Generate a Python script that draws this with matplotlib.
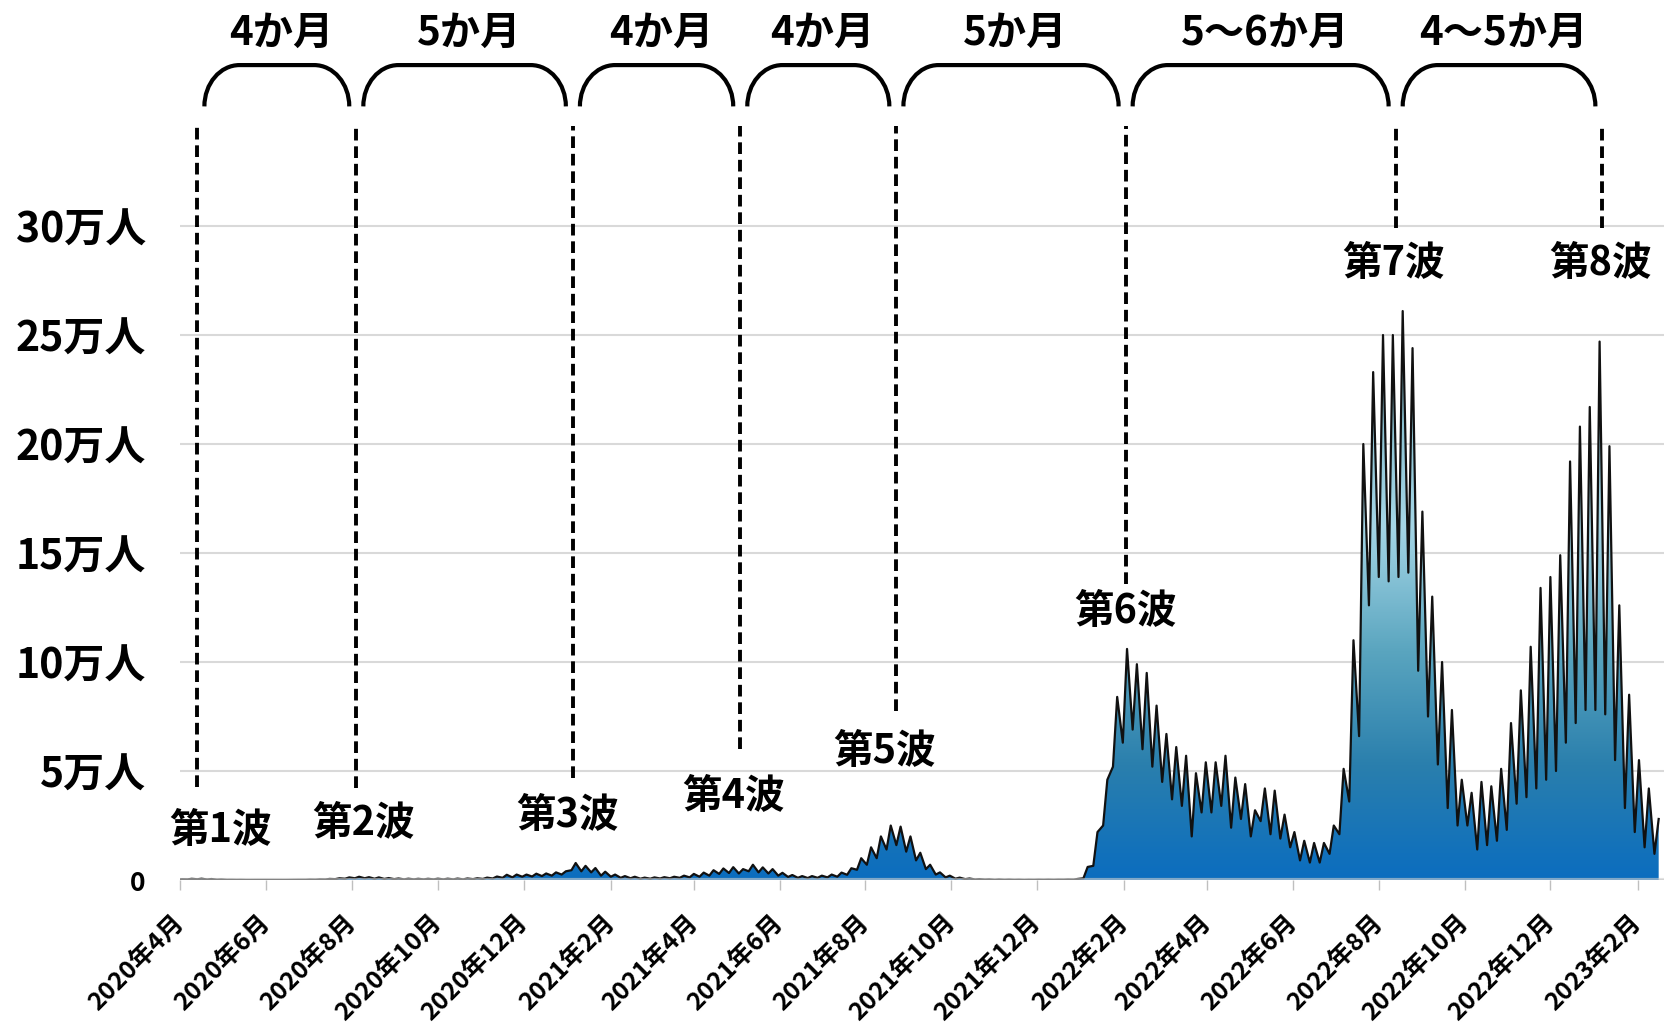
import numpy as np
import pandas as pd
import matplotlib
matplotlib.use('Agg')
import matplotlib.pyplot as plt
import matplotlib.dates as mdates
from matplotlib.colors import LinearSegmentedColormap
from matplotlib.path import Path
from matplotlib.patches import PathPatch
from matplotlib.transforms import blended_transform_factory

plt.rcParams['font.family'] = ['Noto Sans CJK JP', 'DejaVu Sans']
plt.rcParams['font.weight'] = 'bold'

# 週ごとの新規陽性者数（月曜=週の底、木曜=週の山）
low_2020 = [200, 300, 350, 250, 150, 80, 50, 20, 20, 30,
            30, 30, 50, 100, 150, 250, 400, 600, 800, 800,
            600, 500, 400, 300, 300, 300, 300, 300, 300, 300,
            400, 500, 700, 1000, 1200, 1500, 1600, 1800, 2000, 2500]
high_2020 = [350, 550, 600, 450, 250, 100, 80, 40, 40, 50,
             50, 60, 100, 200, 300, 500, 800, 1200, 1500, 1300,
             1200, 900, 700, 600, 550, 550, 600, 600, 650, 700,
             800, 1100, 1600, 2400, 2500, 2500, 2900, 3000, 3500, 4000]
low_2021 = [4500, 4000, 3500, 2000, 1500, 1000, 800, 600, 600, 700,
            800, 1000, 1200, 1500, 2000, 2800, 3200, 3000, 4000, 3500,
            3000, 2000, 1400, 1000, 900, 1000, 1200, 1500, 2400, 4700,
            7000, 10000, 14000, 16000, 13000, 9000, 5000, 2500, 1200, 600,
            400, 250, 200, 100, 100, 80, 50, 80, 100, 100,
            150, 200]
high_2021 = [7800, 6500, 5500, 3800, 2500, 1800, 1500, 1100, 1200, 1300,
             1500, 2000, 2800, 3400, 4500, 5300, 5900, 5000, 7000, 5800,
             5000, 3300, 2300, 1800, 1800, 2000, 2500, 3400, 5400, 10000,
             15000, 20000, 25000, 24500, 20000, 12500, 7000, 3500, 2000, 1100,
             700, 400, 300, 250, 200, 150, 120, 150, 170, 180,
             250, 500]
low_2022 = [800, 6500, 25000, 52000, 63000, 69000, 60000, 52000, 45000, 37000,
            34000, 20000, 31000, 31000, 34000, 24000, 28000, 20000, 27000, 21000,
            19000, 15000, 9000, 8000, 8000, 12000, 21000, 36000, 66000, 126000,
            139000, 137000, 139000, 141000, 96000, 75000, 53000, 33000, 25000, 25000,
            14000, 16000, 18000, 23000, 35000, 38000, 42000, 46000, 50000, 63000,
            72000, 78000]
high_2022 = [6000, 22000, 46000, 84000, 106000, 99000, 95000, 80000, 67000, 61000,
             57000, 49000, 54000, 54000, 57000, 47000, 44000, 32000, 42000, 41000,
             30000, 22000, 18000, 17000, 17000, 25000, 51000, 110000, 200000, 233000,
             250000, 250000, 261000, 244000, 169000, 130000, 100000, 78000, 46000, 40000,
             45000, 43000, 51000, 72000, 87000, 107000, 134000, 139000, 149000, 192000,
             208000, 217000]
low_2023 = [78000, 76000, 55000, 33000, 22000, 15000, 12000]
high_2023 = [247000, 199000, 126000, 85000, 55000, 42000, 28000]

wave_names = ['第1波', '第2波', '第3波', '第4波', '第5波', '第6波', '第7波', '第8波']
wave_dates = ['2020-04-13', '2020-08-04', '2021-01-05', '2021-05-04',
              '2021-08-23', '2022-02-02', '2022-08-13', '2023-01-07']
interval_labels = ['4か月', '5か月', '4か月', '4か月', '5か月', '5〜6か月', '4〜5か月']
y_labels = ['0', '5万人', '10万人', '15万人', '20万人', '25万人', '30万人']

low = np.array(low_2020 + low_2021 + low_2022 + low_2023, dtype=float)
high = np.array(high_2020 + high_2021 + high_2022 + high_2023, dtype=float)
weeks = mdates.date2num(pd.date_range('2020-03-30', periods=len(low), freq='7D'))

x = np.empty(2 * len(low))
y = np.empty(2 * len(low))
x[0::2], x[1::2] = weeks, weeks + 3
y[0::2], y[1::2] = low, high

fig = plt.figure(figsize=(16.65, 10.33), dpi=100)
ax = fig.add_axes([0.1084, 0.1481, 0.8916, 0.7386])
xmin = mdates.date2num(pd.Timestamp('2020-04-01'))
xmax = mdates.date2num(pd.Timestamp('2023-02-20 12:00'))

# グラデーション塗りの面グラフ
area = ax.fill_between(x, y, 0, facecolor='none', edgecolor='none')
cmap = LinearSegmentedColormap.from_list('wave', [
    (0.0, '#0b6dbf'), (0.2, '#2a7fad'), (0.4, '#5aa5bf'),
    (0.62, '#a5d6e6'), (0.8, '#8cc3d3'), (1.0, '#5d95a5')])
grad = np.linspace(0, 1, 256).reshape(-1, 1)
im = ax.imshow(grad, extent=[xmin, xmax, 0, 262000], origin='lower',
               aspect='auto', cmap=cmap, zorder=2)
im.set_clip_path(area.get_paths()[0], transform=ax.transData)
ax.plot(x, y, color='#111111', lw=1.6, zorder=3)
ax.axhline(0, color='#d0d0d0', alpha=0.6, lw=3, zorder=4)

ax.set_xlim(xmin, xmax)
ax.set_ylim(0, 350000)
for s in ax.spines.values():
    s.set_visible(False)

ax.set_yticks(np.arange(0, 300001, 50000))
ax.set_yticklabels(y_labels, fontsize=29.5, fontweight='bold')
ax.get_yticklabels()[0].set_fontsize(19)
ax.tick_params(axis='y', length=0, pad=25)
ax.grid(axis='y', color='#d9d9d9', lw=1.5)
ax.set_axisbelow(True)

ticks = pd.date_range('2020-04-01', '2023-02-01', freq='2MS')
ax.set_xticks(mdates.date2num(ticks))
ax.set_xticklabels([f'{d.year}年{d.month}月' for d in ticks], rotation=45,
                   ha='right', va='center', rotation_mode='anchor',
                   fontsize=18, fontweight='bold')
ax.tick_params(axis='x', length=7, width=1, color='#bfbfbf', pad=21)

# 各波のピーク位置
wave_x = mdates.date2num(pd.to_datetime(wave_dates))
line_bottom = [42700, 42200, 46800, 60000, 77500, 136000, 299000, 299000]
ax.vlines(wave_x, line_bottom, 346000, colors='black', lw=2.8,
          linestyles=(0, (3, 1.5)), zorder=5)

label_shift = [16.7, 5, -3.5, -5, -8.5, 0, -1.4, -1.4]
label_y = [22500, 26000, 29400, 38500, 59000, 123000, 283000, 283000]
for wx, name, dx, ly in zip(wave_x, wave_names, label_shift, label_y):
    ax.text(wx + dx, ly, name, ha='center', va='center', fontsize=28.5,
            fontweight='bold', zorder=6)

# 波と波の間隔を示す括弧
trans = blended_transform_factory(ax.transData, fig.transFigure)
yb, yt = 0.897, 0.937
h = yt - yb
k = 0.5523
rx = 25
gap = 5
for i, txt in enumerate(interval_labels):
    xa = wave_x[i] + gap
    xb = wave_x[i + 1] - gap
    verts = [(xa, yb), (xa, yb + k * h), (xa + rx - k * rx, yt), (xa + rx, yt),
             (xb - rx, yt), (xb - rx + k * rx, yt), (xb, yb + k * h), (xb, yb)]
    codes = [Path.MOVETO, Path.CURVE4, Path.CURVE4, Path.CURVE4,
             Path.LINETO, Path.CURVE4, Path.CURVE4, Path.CURVE4]
    ax.add_patch(PathPatch(Path(verts, codes), transform=trans, fill=False,
                           lw=3, ec='black', clip_on=False))
    ax.text((xa + xb) / 2 + 3, 0.968, txt, transform=trans, ha='center',
            va='center', fontsize=29, fontweight='bold')

fig.savefig('out.png', dpi=100)
